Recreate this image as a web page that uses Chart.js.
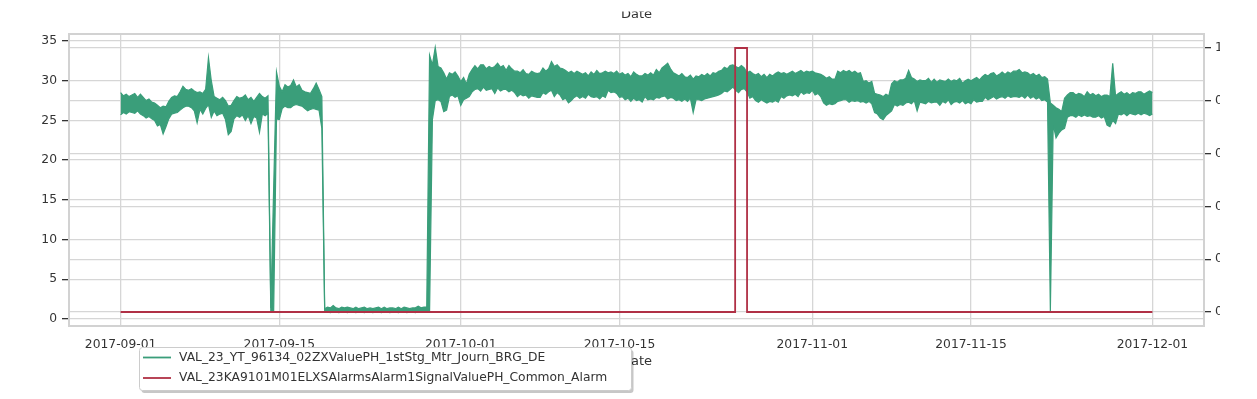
<!DOCTYPE html>
<html>
<head>
<meta charset="utf-8">
<script src="https://cdn.jsdelivr.net/npm/chart.js@4.4.1/dist/chart.umd.min.js"></script>
<style>
  html, body { margin: 0; padding: 0; background: #fff; }
</style>
</head>
<body>
<canvas id="chart" width="1257" height="399"></canvas>
<script>
// x axis is "days since 2017-09-01"
const tickDays = [0, 14, 30, 44, 61, 75, 91];
const tickLabels = ['2017-09-01', '2017-09-15', '2017-10-01', '2017-10-15', '2017-11-01', '2017-11-15', '2017-12-01'];
const leftTicks = [0, 5, 10, 15, 20, 25, 30, 35];
const rightTicks = [0, 0.2, 0.4, 0.6, 0.8, 1.0];

const phLabel = 'VAL_23_YT_96134_02ZXValuePH_1stStg_Mtr_Journ_BRG_DE';
const alarmLabel = 'VAL_23KA9101M01ELXSAlarmsAlarm1SignalValuePH_Common_Alarm';

// the pH trace is very noisy, so it is kept as a max/min band,
// one pair every 6 hours, one row per day
const phHigh = [
  28.5, 28.1, 28.3, 28.0,
  28.2, 28.4, 27.9, 28.3,
  27.9, 27.5, 27.7, 27.3,
  27.2, 26.9, 26.6, 26.8,
  26.7, 27.4, 27.9, 28.1,
  28.0, 28.6, 29.3, 28.9,
  28.8, 29.0, 28.7, 28.5,
  28.6, 28.4, 28.9, 32.9,
  30.0, 28.0, 27.8, 27.6,
  27.9, 27.5, 26.8, 26.9,
  27.5, 28.0, 27.8, 27.9,
  28.2, 27.6, 27.9, 27.4,
  27.9, 28.4, 28.0, 27.8,
  28.1, 1.4, 16.5, 31.1,
  29.3, 28.6, 29.5, 29.2,
  29.4, 30.1, 29.2, 29.5,
  28.8, 28.6, 28.5, 28.4,
  29.0, 29.7, 28.9, 28.0,
  1.3, 1.5, 1.4, 1.7,
  1.4, 1.3, 1.5, 1.4,
  1.5, 1.4, 1.3, 1.5,
  1.3, 1.4, 1.5, 1.3,
  1.4, 1.3, 1.4, 1.5,
  1.3, 1.5, 1.3, 1.4,
  1.4, 1.3, 1.5, 1.3,
  1.5, 1.4, 1.3, 1.4,
  1.4, 1.6, 1.4, 1.5,
  1.5, 33.2, 32.0, 34.2,
  31.8, 31.6, 31.0, 30.2,
  31.0, 30.8, 31.1, 30.6,
  29.9, 30.4, 29.6, 30.8,
  31.4, 31.9, 31.5, 32.0,
  32.0, 31.5, 31.8, 31.6,
  31.8, 32.2, 31.7, 31.9,
  31.3, 31.9, 31.5, 31.2,
  31.2, 31.0, 31.4, 30.9,
  30.8, 31.2, 31.0, 30.9,
  31.0, 31.6, 31.2, 31.5,
  32.4, 31.8, 32.0, 31.6,
  31.5, 31.3, 31.0, 31.2,
  30.9, 31.2, 31.0, 30.8,
  31.0, 30.6, 31.1, 30.8,
  31.3, 30.9, 31.0, 31.2,
  31.0, 31.1, 30.9, 31.2,
  30.8, 31.0, 30.7, 30.9,
  30.5, 31.1, 30.8, 30.6,
  30.6, 30.9, 30.7, 31.0,
  30.7, 31.4, 31.0, 31.6,
  31.9, 32.2, 31.5, 31.0,
  30.8, 30.6, 30.9, 30.5,
  30.4, 30.7, 30.2, 30.6,
  30.5, 30.8, 30.6, 30.9,
  30.6, 31.0, 30.9, 31.2,
  31.3, 31.7, 31.5, 31.9,
  32.0, 31.8, 31.6, 31.9,
  31.6, 31.0, 31.2, 30.9,
  30.7, 30.9, 30.5, 30.8,
  30.4, 30.8, 30.6, 30.9,
  31.1, 30.9, 31.0, 30.8,
  31.0, 31.2, 30.9, 31.1,
  31.3, 31.0, 31.2, 31.1,
  31.2, 31.0, 30.9, 30.8,
  30.6, 30.3, 30.5, 30.2,
  30.2, 31.2, 31.0, 31.3,
  31.1, 31.3, 31.0, 31.2,
  30.9, 31.0, 29.9, 30.0,
  29.7, 29.9, 28.4, 28.3,
  28.2, 28.0, 28.3, 28.1,
  29.6, 30.0, 29.8, 30.1,
  30.1, 30.3, 31.3, 30.4,
  30.2, 29.9, 30.1, 30.0,
  30.0, 30.3, 29.8, 30.2,
  29.8, 30.1, 30.0, 29.9,
  30.2, 29.9, 30.1, 30.0,
  30.3, 29.7, 30.0, 30.2,
  30.0, 30.2, 30.4, 30.1,
  30.5, 30.8, 30.6, 30.9,
  31.0, 30.6, 30.8, 31.1,
  30.8, 31.1, 30.9, 31.2,
  31.2, 31.4, 31.0, 31.1,
  31.0, 30.7, 30.9, 30.6,
  30.8, 30.4, 30.5, 30.2,
  27.2, 26.9, 26.6, 26.4,
  26.1, 27.8, 28.2, 28.5,
  28.5, 28.2, 28.4, 28.3,
  28.0, 28.6, 28.2, 28.4,
  28.1, 28.3, 28.0, 28.2,
  28.2, 28.0, 32.2, 28.1,
  28.4, 28.6, 28.3, 28.5,
  28.2, 28.5, 28.4, 28.6,
  28.6, 28.3, 28.5, 28.7,
  28.5
];

const phLow = [
  25.7, 26.0, 25.8, 26.1,
  26.0, 25.9, 26.2, 25.8,
  25.6, 25.3, 25.5, 25.2,
  25.0, 24.3, 24.5, 23.3,
  24.2, 25.2, 25.8, 25.9,
  26.0, 26.3, 26.6, 26.8,
  26.8, 26.6, 26.2, 24.7,
  26.4, 25.8, 26.5, 27.0,
  25.4, 26.2, 25.6, 25.8,
  25.9, 25.1, 23.2, 23.6,
  25.2, 25.6, 25.4, 25.7,
  25.0, 25.6, 24.6, 25.5,
  25.3, 23.5, 25.8, 25.6,
  25.9, 0.9, 1.0, 25.2,
  25.1, 26.5, 26.8, 26.6,
  26.6, 26.9, 27.0, 26.9,
  26.8, 26.5, 26.2, 26.4,
  26.5, 26.4, 26.3, 24.0,
  0.9, 0.9, 0.8, 0.9,
  0.9, 0.8, 0.9, 0.9,
  0.8, 0.9, 0.9, 0.8,
  0.9, 0.9, 0.8, 0.9,
  0.9, 0.8, 0.9, 0.9,
  0.8, 0.9, 0.9, 0.8,
  0.9, 0.9, 0.8, 0.9,
  0.9, 0.8, 0.9, 0.9,
  0.8, 0.9, 0.9, 0.9,
  0.9, 1.0, 25.1, 27.5,
  27.6, 27.4, 26.1, 26.3,
  28.0, 28.2, 27.9, 28.1,
  26.9, 27.6, 27.8, 28.0,
  28.6, 28.9, 29.0, 28.7,
  29.2, 28.8, 28.9, 29.0,
  28.4, 29.1, 28.7, 28.9,
  28.9, 28.6, 28.8, 28.5,
  28.0, 28.3, 28.1, 28.2,
  27.8, 28.1, 28.0, 27.9,
  27.9, 28.5, 28.3, 28.6,
  28.8, 28.0, 28.5, 28.2,
  27.6, 27.8, 27.2, 27.5,
  27.9, 28.1, 27.8, 28.0,
  27.8, 28.3, 28.0, 27.9,
  28.0, 27.7, 28.1, 27.9,
  28.8, 28.5, 28.6, 28.4,
  27.9, 28.0, 27.6, 27.8,
  27.4, 27.8, 27.5, 27.6,
  27.3, 28.0, 27.6, 27.7,
  27.6, 27.9, 27.8, 28.0,
  28.1, 27.7, 27.9, 27.8,
  27.5, 27.6, 27.4, 27.7,
  27.4, 27.8, 26.0, 27.6,
  27.6, 27.5, 27.7, 27.8,
  27.9, 28.0, 28.1, 28.2,
  28.4, 28.7, 28.6, 28.9,
  29.2, 28.8, 28.5, 28.9,
  29.0, 28.6, 27.8, 28.0,
  27.5, 27.3, 27.6, 27.4,
  27.2, 27.4, 27.3, 27.5,
  27.3, 28.0, 27.8, 28.1,
  28.2, 28.1, 28.3, 28.0,
  28.6, 28.3, 28.5, 28.4,
  28.8, 28.2, 28.4, 28.0,
  27.2, 26.9, 27.1, 27.0,
  27.1, 27.4, 27.5, 27.6,
  27.6, 27.3, 27.5, 27.4,
  27.5, 27.3, 27.4, 27.2,
  27.4, 27.1, 26.0, 25.8,
  25.3, 25.1, 25.6, 25.9,
  26.2, 27.0, 26.8, 27.0,
  26.9, 27.2, 27.3, 27.1,
  27.5, 26.2, 27.3, 27.2,
  27.1, 27.4, 27.2, 27.3,
  27.3, 26.9, 27.4, 27.2,
  27.6, 27.0, 27.3, 27.4,
  27.2, 27.5, 27.1, 27.3,
  27.1, 27.6, 27.3, 27.4,
  27.4, 27.9, 27.6, 27.8,
  28.0, 27.7, 27.9, 28.0,
  27.8, 28.1, 27.9, 28.0,
  28.0, 27.9, 28.1, 27.8,
  28.2, 27.8, 28.0, 27.7,
  27.9, 27.5, 27.6, 27.3,
  1.0, 24.5, 22.8, 23.4,
  23.8, 24.0, 25.4, 25.6,
  25.6, 25.4, 25.7, 25.5,
  25.7, 25.5, 25.6, 25.4,
  25.4, 25.6, 25.3, 25.5,
  24.4, 24.2, 25.0, 24.6,
  25.8, 25.7, 25.9, 25.6,
  25.9, 25.8, 25.7, 25.9,
  25.7, 25.9, 25.8, 25.6,
  25.8
];

// alarm signal: step points (day, value)
const alarmDays = [0, 54.2, 55.25, 91];
const alarmValues = [0, 1, 0, 0];

const green = '#3a9e7a';
const red = '#b03045';
const gridColor = '#d6d6d6';
const textColor = '#333333';
const tickFont = { family: 'DejaVu Sans', size: 12.3 };

const extras = {
  id: 'extras',
  beforeDatasetsDraw(chart) {
    const { ctx, chartArea: a } = chart;
    ctx.save();
    ctx.strokeStyle = '#d2d2d2';
    ctx.lineWidth = 2;
    ctx.strokeRect(a.left, a.top, a.right - a.left, a.bottom - a.top);
    ctx.restore();
  },
  afterDraw(chart) {
    const { ctx, chartArea: a } = chart;
    ctx.save();
    // top title, cut off at the top edge
    ctx.font = '13px "DejaVu Sans"';
    ctx.fillStyle = textColor;
    ctx.textAlign = 'center';
    ctx.textBaseline = 'alphabetic';
    ctx.fillText('Date', (a.left + a.right) / 2, 18.3);
    ctx.fillStyle = '#fff';
    ctx.fillRect(0, 0, chart.width, 11.5);
    // right tick labels are cropped
    ctx.fillRect(1220, 0, chart.width - 1220, chart.height);

    // legend box
    const bx = 139.5, by = 347.5, bw = 492, bh = 43;
    ctx.fillStyle = 'rgba(0,0,0,0.22)';
    ctx.beginPath();
    ctx.roundRect(bx + 2, by + 2.5, bw, bh, 3);
    ctx.fill();
    ctx.fillStyle = '#fff';
    ctx.strokeStyle = '#cccccc';
    ctx.lineWidth = 1;
    ctx.beginPath();
    ctx.roundRect(bx, by, bw, bh, 3);
    ctx.fill();
    ctx.stroke();
    const items = [[phLabel, green, 357.5], [alarmLabel, red, 378]];
    ctx.font = '12.3px "DejaVu Sans"';
    ctx.textAlign = 'left';
    ctx.textBaseline = 'middle';
    items.forEach(([label, color, y]) => {
      ctx.strokeStyle = color;
      ctx.lineWidth = 1.8;
      ctx.beginPath();
      ctx.moveTo(143, y);
      ctx.lineTo(171, y);
      ctx.stroke();
      ctx.fillStyle = textColor;
      ctx.fillText(label, 179, y);
    });
    ctx.restore();
  }
};

new Chart(document.getElementById('chart'), {
  type: 'line',
  data: {
    datasets: [{
      label: phLabel,
      data: phHigh.map((v, i) => ({ x: i / 4, y: v })),
      borderColor: green,
      backgroundColor: green,
      borderWidth: 1.2,
      pointRadius: 0,
      fill: '+1',
      yAxisID: 'y',
      order: 1
    }, {
      label: phLabel + ' (min)',
      data: phLow.map((v, i) => ({ x: i / 4, y: v })),
      borderColor: green,
      borderWidth: 1.2,
      pointRadius: 0,
      fill: false,
      yAxisID: 'y',
      order: 1
    }, {
      label: alarmLabel,
      data: alarmDays.map((d, i) => ({ x: d, y: alarmValues[i] })),
      borderColor: red,
      borderWidth: 1.8,
      pointRadius: 0,
      stepped: 'before',
      fill: false,
      yAxisID: 'y2',
      order: 0
    }]
  },
  options: {
    responsive: false,
    animation: false,
    layout: { padding: { top: 34, left: 0, right: 0, bottom: 0 } },
    plugins: {
      legend: { display: false },
      tooltip: { enabled: false }
    },
    scales: {
      x: {
        type: 'linear',
        min: -4.55,
        max: 95.55,
        afterBuildTicks: s => { s.ticks = tickDays.map(v => ({ value: v })); },
        afterFit: s => { s.height = 73; },
        ticks: {
          autoSkip: false,
          maxRotation: 0,
          padding: 11,
          color: textColor,
          font: tickFont,
          callback: v => tickLabels[tickDays.indexOf(v)]
        },
        grid: { color: gridColor, lineWidth: 1.3, drawTicks: false },
        border: { display: false },
        title: {
          display: true,
          text: 'Date',
          color: textColor,
          font: { family: 'DejaVu Sans', size: 13 },
          padding: { top: 4, bottom: 30 }
        }
      },
      y: {
        position: 'left',
        min: -0.88,
        max: 35.88,
        afterBuildTicks: s => { s.ticks = leftTicks.map(v => ({ value: v })); },
        afterFit: s => { s.width = 69; },
        ticks: { padding: 5, color: textColor, font: tickFont },
        grid: { color: gridColor, lineWidth: 1.3, tickColor: '#333', tickLength: 7 },
        border: { display: false }
      },
      y2: {
        position: 'right',
        min: -0.053,
        max: 1.053,
        afterBuildTicks: s => { s.ticks = rightTicks.map(v => ({ value: v })); },
        afterFit: s => { s.width = 53; },
        ticks: { padding: 4, color: textColor, font: tickFont, callback: v => v.toFixed(1) },
        grid: { color: gridColor, lineWidth: 1.3, tickColor: '#333', tickLength: 7 },
        border: { display: false }
      }
    }
  },
  plugins: [extras]
});
</script>
</body>
</html>
